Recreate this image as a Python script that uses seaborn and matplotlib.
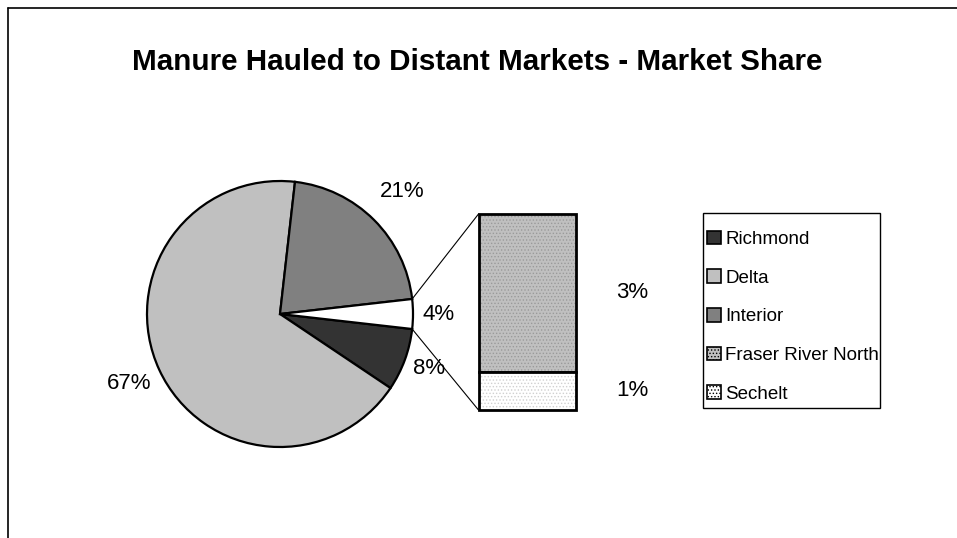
import numpy as np
import matplotlib.pyplot as plt
import matplotlib.patches as mpatches
import seaborn as sns

# ---------------------------------------------------------------
# data
# ---------------------------------------------------------------
TITLE = 'Manure Hauled to Distant Markets - Market Share'
pie_names = ['Richmond', 'Delta', 'Interior']
pie_values = [7.6, 67.4, 21.4]
bar_names = ['Fraser River North', 'Sechelt']
bar_values = [2.9, 0.7]

pie_colors = ['#333333', '#c0c0c0', '#808080']
other_color = 'white'
bar_colors = ['#c0c0c0', 'white']
bar_dots = ['#9a9a9a', '#d0d0d0']

# ---------------------------------------------------------------
# style
# ---------------------------------------------------------------
sns.set_theme(style="white")
plt.rcParams['font.family'] = ['Liberation Sans', 'DejaVu Sans']
plt.rcParams['text.color'] = 'black'
plt.rcParams['hatch.linewidth'] = 0.6

W, H = 957, 538
fig = plt.figure(figsize=(W / 100, H / 100), dpi=100)
ax = fig.add_axes([0, 0, 1, 1])

# chart area border (runs off the right/bottom of the image)
fig.add_artist(plt.Line2D([8 / W, 1], [1 - 8 / H, 1 - 8 / H], color='black', lw=1.2))
fig.add_artist(plt.Line2D([8 / W, 8 / W], [0, 1 - 8 / H], color='black', lw=1.2))

fig.text(477 / W, 1 - 62 / H, TITLE, ha='center', va='center',
         fontsize=21.3, fontweight='bold', color='black')

# ---------------------------------------------------------------
# pie
# ---------------------------------------------------------------
other_total = sum(bar_values)
vals = pie_values + [other_total]
cols = pie_colors + [other_color]
cx, cy, r = 280, H - 314, 133
start = -other_total / sum(vals) * 360 / 2

wedges, _ = ax.pie(vals, colors=cols, startangle=start, counterclock=False,
                   center=(cx, cy), radius=r, frame=True,
                   wedgeprops=dict(edgecolor='black', linewidth=1.6))
ax.set_xlim(0, W)
ax.set_ylim(0, H)
ax.set_aspect('equal')
ax.axis('off')

label_dist = [1.19, 1.25, 1.3, 1.19]
for w, v, d in zip(wedges, vals, label_dist):
    a = np.deg2rad((w.theta1 + w.theta2) / 2)
    ax.text(cx + d * r * np.cos(a), cy + d * r * np.sin(a), f'{v:.0f}%',
            ha='center', va='center', fontsize=16, zorder=5)

# ---------------------------------------------------------------
# bar of pie
# ---------------------------------------------------------------
bx, bw = 527, 97
b_bottom, b_height = H - 410, 196
scale = b_height / other_total
heights = [v * scale for v in bar_values]
bottoms = [b_bottom + heights[1], b_bottom]

for h, b, c, dc in zip(heights, bottoms, bar_colors, bar_dots):
    ax.bar(bx, h, width=bw, bottom=b, color=c, edgecolor=dc,
           linewidth=0, hatch='.....')
    ax.bar(bx, h, width=bw, bottom=b, fill=False, edgecolor='black',
           linewidth=2)

for h, b, v in zip(heights, bottoms, bar_values):
    ax.text(bx + bw / 2 + 57, b + h / 2, f'{v:.0f}%', ha='center',
            va='center', fontsize=16)

# connector lines
ow = wedges[-1]
for ang, yb in [(ow.theta1, b_bottom), (ow.theta2, b_bottom + b_height)]:
    a = np.deg2rad(ang)
    ax.plot([cx + r * np.cos(a), bx - bw / 2], [cy + r * np.sin(a), yb],
            color='black', lw=0.8, zorder=4)

# ---------------------------------------------------------------
# legend (frame drawn separately so the padding can match)
# ---------------------------------------------------------------
handles = [mpatches.Patch(facecolor=c, edgecolor='black', lw=1.2)
           for c in pie_colors]
handles += [mpatches.Patch(facecolor=c, edgecolor='black', lw=1.2,
                           hatch='.....') for c in bar_colors]
leg = fig.legend(handles, pie_names + bar_names, loc='upper left',
                 bbox_to_anchor=(703.5 / W, 1 - 227 / H), fontsize=13.5,
                 frameon=False, handlelength=0.75, handleheight=0.75,
                 handletextpad=0.2, labelspacing=1.13, borderpad=0.2,
                 borderaxespad=0)
for t in leg.get_texts():
    t.set_color('black')
fig.add_artist(mpatches.Rectangle((703 / W, 1 - 408 / H), 177 / W, 195 / H,
                                  transform=fig.transFigure, fill=False,
                                  edgecolor='black', lw=1.0))

fig.savefig('out.png', dpi=100)
